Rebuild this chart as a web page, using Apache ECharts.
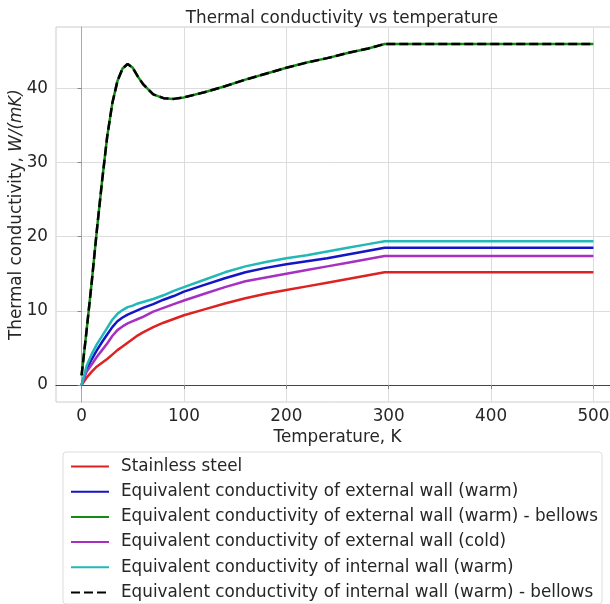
<!DOCTYPE html>
<html>
<head>
<meta charset="utf-8">
<script src="https://cdn.jsdelivr.net/npm/echarts@6/dist/echarts.min.js"></script>
<style>
  html, body { margin: 0; padding: 0; background: #fff; }
  #chart { width: 610px; height: 604px; }
</style>
</head>
<body>
<div id="chart"></div>
<script>
// temperature points, K
const temps = [0, 5, 10, 15, 20, 25, 30, 35, 40, 45, 50, 55, 60, 70, 80, 90, 100,
  120, 140, 160, 180, 200, 220, 240, 260, 280, 296, 500];

const stainless = [0, 1.0, 1.8, 2.5, 3.0, 3.5, 4.1, 4.7, 5.2, 5.7, 6.2, 6.7, 7.1, 7.8, 8.4, 8.9, 9.4,
  10.2, 11.0, 11.7, 12.3, 12.8, 13.3, 13.8, 14.3, 14.8, 15.2, 15.2];
const extWarm = [0, 2.2, 3.5, 4.7, 5.8, 6.8, 7.8, 8.6, 9.1, 9.5, 9.8, 10.1, 10.4, 10.9, 11.5, 12.0, 12.6,
  13.5, 14.4, 15.2, 15.8, 16.3, 16.7, 17.1, 17.6, 18.1, 18.5, 18.5];
const extWarmBellows = [1.3, 7.5, 14.0, 21.0, 27.5, 33.5, 38.0, 41.0, 42.7, 43.3, 42.8, 41.6, 40.6, 39.2, 38.7, 38.6, 38.8,
  39.5, 40.3, 41.2, 42.0, 42.8, 43.5, 44.1, 44.8, 45.4, 46.0, 46.0];
const extCold = [0, 1.8, 2.8, 3.8, 4.7, 5.6, 6.6, 7.4, 7.9, 8.3, 8.6, 8.9, 9.2, 9.9, 10.4, 10.9, 11.4,
  12.3, 13.2, 14.0, 14.5, 15.0, 15.5, 16.0, 16.5, 17.0, 17.4, 17.4];
const intWarm = [0, 2.6, 4.2, 5.5, 6.6, 7.7, 8.8, 9.6, 10.1, 10.5, 10.7, 11.0, 11.2, 11.6, 12.1, 12.7, 13.2,
  14.2, 15.2, 16.0, 16.6, 17.1, 17.5, 18.0, 18.5, 19.0, 19.4, 19.4];
const intWarmBellows = extWarmBellows.slice();

const xTicks = [0, 100, 200, 300, 400, 500];
const yTicks = [0, 10, 20, 30, 40];

const names = [
  'Stainless steel',
  'Equivalent conductivity of external wall (warm)',
  'Equivalent conductivity of external wall (warm) - bellows',
  'Equivalent conductivity of external wall (cold)',
  'Equivalent conductivity of internal wall (warm)',
  'Equivalent conductivity of internal wall (warm) - bellows'
];
const values = [stainless, extWarm, extWarmBellows, extCold, intWarm, intWarmBellows];
const colors = ['#dd2222', '#1414c8', '#138a13', '#a830c0', '#22b8b8', '#000000'];

const font = 'DejaVu Sans';
const fs = 16.8;
const txt = '#262626';

const chart = echarts.init(document.getElementById('chart'), null, { renderer: 'canvas' });

const series = names.map((name, i) => ({
  name: name,
  type: 'line',
  data: temps.map((t, k) => [t, values[i][k]]),
  symbol: 'none',
  lineStyle: {
    color: colors[i],
    width: 2.5,
    type: i === 5 ? [9, 4] : 'solid'
  },
  itemStyle: { color: colors[i] },
  z: i === 5 ? 5 : 2,
  animation: false
}));

const option = {
  animation: false,
  title: {
    text: 'Thermal conductivity vs temperature',
    left: 337,
    top: 5,
    textAlign: 'center',
    textStyle: { fontFamily: font, fontSize: fs, fontWeight: 'normal', color: txt }
  },
  grid: {
    left: 56,
    top: 27,
    right: -9,
    bottom: 202,
    show: true,
    borderColor: '#cccccc',
    borderWidth: 1,
    containLabel: false,
    outerBoundsMode: 'none'
  },
  xAxis: {
    type: 'value',
    min: -25,
    max: 525,
    name: 'Temperature, K',
    nameLocation: 'middle',
    nameGap: 27,
    nameMoveOverlap: false,
    nameTextStyle: { fontFamily: font, fontSize: fs, color: txt },
    axisLine: { show: true, lineStyle: { color: '#444', width: 1.2 } },
    axisTick: { show: true, length: 4, customValues: xTicks, lineStyle: { color: '#888' } },
    axisLabel: { customValues: xTicks, fontFamily: font, fontSize: fs, color: txt, margin: 6 },
    splitLine: { show: true, lineStyle: { color: '#dcdcdc', width: 1 } }
  },
  yAxis: {
    type: 'value',
    min: -2.3,
    max: 48.3,
    name: '{a|Thermal conductivity, }{b|W/(mK)}',
    nameLocation: 'middle',
    nameGap: 31,
    nameMoveOverlap: false,
    nameTextStyle: {
      fontFamily: font, fontSize: fs, color: txt,
      rich: {
        a: { fontFamily: font, fontSize: fs, color: txt },
        b: { fontFamily: font, fontSize: fs, color: txt, fontStyle: 'italic' }
      }
    },
    axisLine: { show: true, lineStyle: { color: '#aaaaaa', width: 1 } },
    axisTick: { show: true, length: 4, customValues: yTicks, lineStyle: { color: '#888' } },
    axisLabel: { customValues: yTicks, fontFamily: font, fontSize: fs, color: txt, margin: 8 },
    splitLine: { show: true, lineStyle: { color: '#dcdcdc', width: 1 } }
  },
  legend: {
    orient: 'vertical',
    left: 63,
    top: 452,
    height: 160,
    padding: [5, 4, 2, 7],
    itemWidth: 38,
    itemHeight: 19,
    itemGap: 6.2,
    itemStyle: { opacity: 0 },
    borderColor: '#dddddd',
    borderWidth: 1,
    borderRadius: 3,
    backgroundColor: '#fff',
    textStyle: { fontFamily: font, fontSize: fs, color: txt, lineHeight: 19, padding: [0, 0, 0, 7] },
    data: names
  },
  series: series
};

chart.setOption(option);
</script>
</body>
</html>
